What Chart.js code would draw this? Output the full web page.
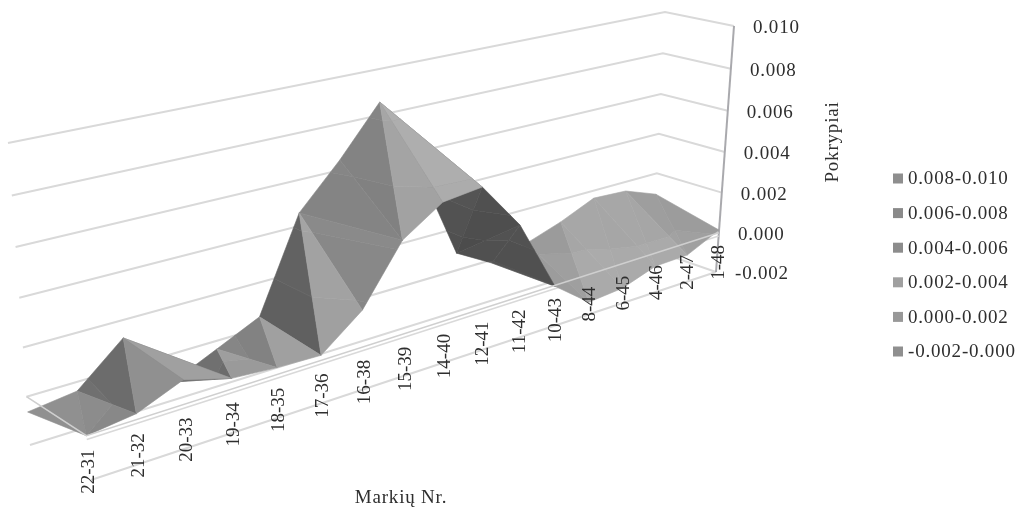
<!DOCTYPE html>
<html>
<head>
<meta charset="utf-8">
<style>
  html, body { margin: 0; padding: 0; background: #fff; }
  canvas { display: block; }
</style>
<script src="https://cdn.jsdelivr.net/npm/chart.js@4/dist/chart.umd.min.js"></script>
</head>
<body>
<canvas id="surfaceChart" width="1020" height="509"></canvas>
<script>
// ==========================
// Data
// ==========================

const categories = ["22-31", "21-32", "20-33", "19-34", "18-35", "17-36", "16-38", "15-39", "14-40",
    "12-41", "11-42", "10-43", "8-44", "6-45", "4-46", "2-47", "1-48"];

const frontRow = [0.00000, 0.00026, 0.00110, 0.00048, 0.00031, 0.00023, 0.00171, 0.00435, 0.00555,
    0.00572, 0.00343, -0.00005, -0.00139, -0.00124, -0.00067, -0.00063, 0.00013];

const backRow = [-0.00063, -0.00038, 0.00126, -0.00121, -0.00036, 0.00050, 0.00457, 0.00644, 0.00857,
    0.00515, 0.00082, -0.00016, 0.00032, 0.00089, 0.00162, 0.00153, 0.00092];

const valueTicks = [-0.002, 0.000, 0.002, 0.004, 0.006, 0.008, 0.010];

const legendLabels = ["0.008-0.010", "0.006-0.008", "0.004-0.006", "0.002-0.004", "0.000-0.002", "-0.002-0.000"];

// ==========================
// Look of the surface
// ==========================

// grey level of each cell: [triangle on the back edge, triangle on the front edge]
const facetGreys = [
    [0x8c, 0x88], [0x6c, 0x90], [0x70, 0xa0], [0x6c, 0x9a],
    [0x82, 0xa0], [0x60, 0xa0], [0x80, 0x86], [0x7d, 0x9e],
    [0x60, 0xa8], [0x50, 0x4c], [0x50, 0x50], [0x98, 0x98],
    [0x9b, 0xa6], [0xa7, 0xa6], [0xa7, 0xa6], [0x9e, 0x9c]
];

// cells folded along back(i)-front(i+1) instead of back(i+1)-front(i)
const otherDiagonal = [2, 6, 8];

// shift of the grey level inside each value band, lowest band first
const bandShift = [4, 0, 2, 4, 6, 8];

const legendGreys = ["#8e8e8e", "#8a8a8a", "#8c8c8c", "#a0a0a0", "#989898", "#8f8f8f"];

// floor and roof of the plot box, in canvas pixels
const box = {
    frontLeft:  { low: [91, 480], high: [62, 203] },
    frontRight: { low: [716, 272], high: [734, 26] },
    backLeft:   { low: [30, 445], high: [8, 143] },
    backRight:  { low: [653, 250], high: [665, 12] }
};

// foreshortening along the categories and up the value axis
const perspective = 0.3;
const heightPerspective = 0.05;
const minValue = valueTicks[0];
const maxValue = valueTicks[valueTicks.length - 1];

// ==========================
// Projection
// ==========================

const lerp = (a, b, t) => a + (b - a) * t;
const mix = (p, q, t) => [lerp(p[0], q[0], t), lerp(p[1], q[1], t)];

function project(index, depth, value) {
    const t = index / (categories.length - 1);
    const along = (1 + perspective) * t / (1 + perspective * t);
    const raw = (value - minValue) / (maxValue - minValue);
    const h = raw / (1 + heightPerspective * (1 - raw));
    const left = mix(mix(box.frontLeft.low, box.frontLeft.high, h), mix(box.backLeft.low, box.backLeft.high, h), depth);
    const right = mix(mix(box.frontRight.low, box.frontRight.high, h), mix(box.backRight.low, box.backRight.high, h), depth);
    const p = mix(left, right, along);
    return { x: p[0], y: p[1] };
}

function vertex(index, depth) {
    const value = depth === 0 ? frontRow[index] : backRow[index];
    const p = project(index, depth, value);
    return { x: p.x, y: p.y, v: value };
}

// ==========================
// Datasets
// ==========================

const datasets = [];

function addLine(points, color, width) {
    datasets.push({
        data: points, showLine: true, pointRadius: 0, borderColor: color, borderWidth: width,
        fill: false, clip: false
    });
}

function addFacet(points, color) {
    datasets.push({
        data: points.concat([points[0]]), showLine: true, pointRadius: 0, borderColor: color, borderWidth: 0.6,
        backgroundColor: color, fill: "shape", clip: false, borderJoinStyle: "round"
    });
}

// part of a polygon lying between two values
function clipBand(poly, lo, hi) {
    const cut = (pts, level, keepAbove) => {
        const out = [];
        pts.forEach((a, k) => {
            const b = pts[(k + 1) % pts.length];
            const aIn = keepAbove ? a.v >= level : a.v <= level;
            const bIn = keepAbove ? b.v >= level : b.v <= level;
            if (aIn) out.push(a);
            if (aIn !== bIn) {
                const t = (level - a.v) / (b.v - a.v);
                out.push({ x: lerp(a.x, b.x, t), y: lerp(a.y, b.y, t), v: level });
            }
        });
        return out;
    };
    return cut(cut(poly, lo, true), hi, false);
}

function addTriangle(tri, grey) {
    for (let b = 0; b < valueTicks.length - 1; b++) {
        const piece = clipBand(tri, valueTicks[b], valueTicks[b + 1]);
        if (piece.length < 3) continue;
        const g = grey + bandShift[b];
        addFacet(piece, `rgb(${g},${g},${g})`);
    }
}

const gridColor = "#d9d9d9";
const last = categories.length - 1;

// walls
valueTicks.forEach(tick => {
    addLine([project(0, 1, tick), project(last, 1, tick), project(last, 0, tick)], gridColor, 2);
});

// floor front edge and value axis
addLine([project(0, 0, minValue), project(last, 0, minValue)], gridColor, 2);
addLine([project(last, 0, minValue), project(last, 0, maxValue)], "#a9a9ad", 2);

// lower rim of the zero plane, passes under the surface
addLine([project(0, 0, -0.00017), project(last, 0, -0.00017)], "#d9d9d9", 1.6);

// surface, far cells first
for (let i = last - 1; i >= 0; i--) {
    const f0 = vertex(i, 0), f1 = vertex(i + 1, 0), b0 = vertex(i, 1), b1 = vertex(i + 1, 1);
    if (otherDiagonal.includes(i)) {
        addTriangle([b0, b1, f1], facetGreys[i][0]);
        addTriangle([b0, f0, f1], facetGreys[i][1]);
    } else {
        addTriangle([b0, b1, f0], facetGreys[i][0]);
        addTriangle([b1, f0, f1], facetGreys[i][1]);
    }
}

// upper rim of the zero plane, lies over the surface
addLine([project(0, 1, 0), project(0, 0, 0), project(last, 0, 0)], "#cfcfcf", 1.6);

// first dataset in the list is painted first
datasets.forEach((d, k) => { d.order = datasets.length - k; });

// ==========================
// Text and legend
// ==========================

const textFont = '19px "Liberation Serif"';
const textColor = "#2e2e2e";

const surfaceText = {
    id: "surfaceText",
    afterDatasetsDraw(chart) {
        const { ctx, scales } = chart;
        ctx.save();
        ctx.font = textFont;
        ctx.fillStyle = textColor;
        ctx.letterSpacing = "0.8px";
        ctx.textBaseline = "middle";

        // value axis
        ctx.textAlign = "left";
        valueTicks.forEach(tick => {
            const p = project(last, 0, tick);
            ctx.fillText(tick.toFixed(3), scales.x.getPixelForValue(p.x) + 19, scales.y.getPixelForValue(p.y) + 2);
        });

        // legend
        legendLabels.forEach((label, k) => {
            const y = 178.5 + k * 34.6;
            ctx.fillStyle = legendGreys[k];
            ctx.fillRect(893, y - 5, 10, 10);
            ctx.fillStyle = textColor;
            ctx.fillText(label, 908, y + 1);
        });

        // category labels, reading upwards
        ctx.letterSpacing = "0px";
        categories.forEach((label, i) => {
            const p = project(i, 0, minValue + 0.115 * (maxValue - minValue));
            ctx.save();
            ctx.translate(scales.x.getPixelForValue(p.x) + 1, scales.y.getPixelForValue(p.y));
            ctx.rotate(-Math.PI / 2);
            ctx.textAlign = "right";
            ctx.fillText(label, 0, 0);
            ctx.restore();
        });

        // axis titles
        ctx.letterSpacing = "0.8px";
        ctx.textAlign = "center";
        ctx.fillText("Markių Nr.", 401, 498);
        ctx.translate(833, 142);
        ctx.rotate(-Math.PI / 2);
        ctx.fillText("Pokrypiai", 0, 0);
        ctx.restore();
    }
};

// ==========================
// Chart
// ==========================

new Chart(document.getElementById("surfaceChart"), {
    type: "scatter",
    data: { datasets },
    options: {
        responsive: false,
        animation: false,
        layout: { padding: 0 },
        plugins: { legend: { display: false }, tooltip: { enabled: false } },
        scales: {
            x: { type: "linear", display: false, min: 0, max: 1020 },
            y: { type: "linear", display: false, min: 0, max: 509, reverse: true }
        }
    },
    plugins: [surfaceText]
});
</script>
</body>
</html>
